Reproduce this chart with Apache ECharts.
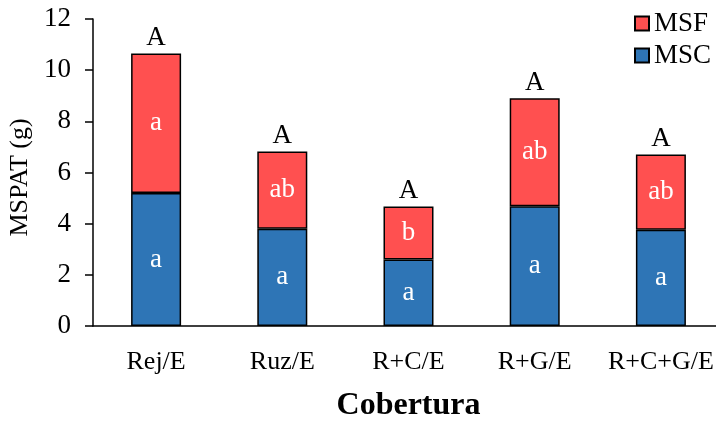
<!DOCTYPE html>
<html>
<head>
<meta charset="utf-8">
<script src="https://cdn.jsdelivr.net/npm/echarts@6/dist/echarts.min.js"></script>
<style>
  html, body { margin: 0; padding: 0; background: #fff; }
  #chart { width: 716px; height: 421px; }
</style>
</head>
<body>
<div id="chart"></div>
<script>
// Cover treatments
const categories = ['Rej/E', 'Ruz/E', 'R+C/E', 'R+G/E', 'R+C+G/E'];
// Dry mass (g): MSC (bottom segment) and MSF (top segment)
const mscValues = [5.2, 3.8, 2.6, 4.68, 3.76];
const msfValues = [5.45, 3.02, 2.07, 4.22, 2.94];
// Mean-separation letters
const mscLetters = ['a', 'a', 'a', 'a', 'a'];
const msfLetters = ['a', 'ab', 'b', 'ab', 'ab'];
const totalLetters = ['A', 'A', 'A', 'A', 'A'];
// Y axis ticks
const yTicks = { min: 0, max: 12, interval: 2 };

const FONT = '"Liberation Serif", "Times New Roman", serif';
const BLUE = '#2E75B6';
const RED = '#FF5050';

const chart = echarts.init(document.getElementById('chart'), null, { renderer: 'canvas' });

const barLabel = (letters) => ({
  show: true,
  position: 'inside',
  color: '#fff',
  fontFamily: FONT,
  fontSize: 27,
  formatter: (p) => letters[p.dataIndex]
});

chart.setOption({
  animation: false,
  backgroundColor: '#fff',
  grid: { left: 93, top: 19, width: 631, height: 307, containLabel: false, outerBoundsMode: 'none' },
  legend: {
    data: ['MSF', 'MSC'],
    orient: 'vertical',
    left: 634,
    top: 10,
    padding: 0,
    itemGap: 5,
    itemWidth: 14,
    itemHeight: 14,
    icon: 'rect',
    textStyle: { fontFamily: FONT, fontSize: 27, color: '#000' }
  },
  xAxis: {
    type: 'category',
    data: categories,
    name: 'Cobertura',
    nameLocation: 'middle',
    nameGap: 64,
    nameTextStyle: { fontFamily: FONT, fontSize: 32, fontWeight: 'bold', color: '#000' },
    axisLine: { lineStyle: { color: '#000', width: 1.5 } },
    axisTick: { alignWithLabel: true, length: 6, lineStyle: { color: '#000', width: 1.5 } },
    axisLabel: { interval: 0, fontFamily: FONT, fontSize: 26, color: '#000', margin: 23 }
  },
  yAxis: {
    type: 'value',
    min: yTicks.min,
    max: yTicks.max,
    interval: yTicks.interval,
    name: 'MSPAT (g)',
    nameLocation: 'middle',
    nameGap: 54,
    nameTextStyle: { fontFamily: FONT, fontSize: 26, color: '#000', padding: [0, 10, 0, 0] },
    axisLine: { show: true, lineStyle: { color: '#000', width: 1.5 } },
    axisTick: { show: true, length: 8, lineStyle: { color: '#000', width: 1.5 } },
    axisLabel: { fontFamily: FONT, fontSize: 27, color: '#000', margin: 22 },
    splitLine: { show: false }
  },
  series: [
    {
      name: 'MSC',
      type: 'bar',
      stack: 'total',
      data: mscValues,
      barWidth: 50,
      itemStyle: { color: BLUE, borderColor: '#000', borderWidth: 1.5 },
      label: barLabel(mscLetters)
    },
    {
      name: 'MSF',
      type: 'bar',
      stack: 'total',
      data: msfValues,
      barWidth: 50,
      itemStyle: { color: RED, borderColor: '#000', borderWidth: 1.5 },
      label: barLabel(msfLetters),
      markPoint: {
        symbol: 'rect',
        symbolSize: 0,
        label: {
          show: true,
          position: 'top',
          distance: 2,
          color: '#000',
          fontFamily: FONT,
          fontSize: 27,
          formatter: (p) => p.name
        },
        data: categories.map((c, i) => ({
          name: totalLetters[i],
          coord: [c, mscValues[i] + msfValues[i]]
        }))
      }
    }
  ]
});
</script>
</body>
</html>
